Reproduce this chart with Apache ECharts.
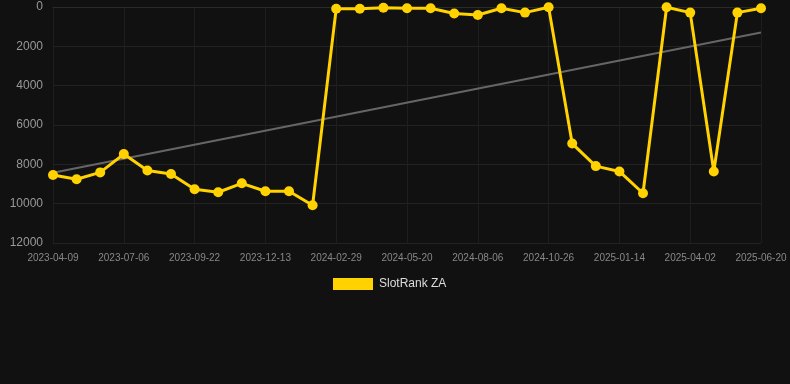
<!DOCTYPE html>
<html>
<head>
<meta charset="utf-8">
<script src="https://cdn.jsdelivr.net/npm/echarts@6/dist/echarts.min.js"></script>
<style>
  html, body { margin: 0; padding: 0; background: #111111; }
  #chart { width: 790px; height: 384px; }
</style>
</head>
<body>
<div id="chart"></div>
<script>
// dates on the x axis (every third one is labelled)
var dates = [
  '2023-04-09', '2023-05-08', '2023-06-06', '2023-07-06', '2023-08-01', '2023-08-27',
  '2023-09-22', '2023-10-19', '2023-11-16', '2023-12-13', '2024-01-08', '2024-02-03',
  '2024-02-29', '2024-03-27', '2024-04-23', '2024-05-20', '2024-06-15', '2024-07-11',
  '2024-08-06', '2024-09-02', '2024-09-29', '2024-10-26', '2024-11-21', '2024-12-18',
  '2025-01-14', '2025-02-09', '2025-03-07', '2025-04-02', '2025-04-28', '2025-05-25',
  '2025-06-20'
]

// rank values
var rankZA = [
  8545, 8760, 8410, 7480, 8310, 8495,
  9270, 9420, 8965, 9370, 9370, 10080,
  85, 85, 35, 65, 65, 335,
  405, 65, 285, 15, 6945, 8090,
  8360, 9470, 15, 285, 8360, 285,
  65
]

// trend line end points
var trendStart = 8430
var trendEnd = 1300

var myChart = echarts.init(document.getElementById('chart'))

var option = {
  backgroundColor: '#111111',
  animation: false,
  grid: {
    left: 53,
    right: 29,
    top: 7,
    bottom: 141,
  },
  legend: {
    top: 273,
    left: 328,
    itemWidth: 40,
    itemHeight: 12,
    itemGap: 10,
    data: [{ name: 'SlotRank ZA', icon: 'rect' }],
    textStyle: {
      color: '#dddddd',
      fontSize: 12,
      padding: [0, 0, 0, 1],
      fontFamily: 'Liberation Sans, Arial, sans-serif',
    },
  },
  xAxis: {
    type: 'category',
    boundaryGap: false,
    data: dates,
    axisLine: { show: true, lineStyle: { color: '#2a2a2a' } },
    axisTick: { show: false },
    axisLabel: {
      interval: 2,
      color: '#888888',
      fontSize: 10,
      margin: 10,
      fontFamily: 'Liberation Sans, Arial, sans-serif',
    },
    splitLine: {
      show: true,
      interval: 2,
      lineStyle: { color: '#1e1e1e' },
    },
  },
  yAxis: {
    type: 'value',
    inverse: true,
    min: 0,
    max: 12000,
    interval: 2000,
    axisLine: { show: false },
    axisTick: { show: false },
    axisLabel: {
      color: '#999999',
      fontSize: 12,
      margin: 10,
      formatter: function (v) { return String(v) },
      fontFamily: 'Liberation Sans, Arial, sans-serif',
    },
    splitLine: {
      lineStyle: { color: '#222222' },
    },
  },
  series: [
    {
      name: 'SlotRank ZA',
      type: 'line',
      data: rankZA,
      symbol: 'circle',
      symbolSize: 10,
      itemStyle: { color: '#ffd200' },
      lineStyle: { color: '#ffd200', width: 3 },
      z: 3,
    },
    {
      name: 'trend',
      type: 'line',
      data: [[dates[0], trendStart], [dates[dates.length - 1], trendEnd]],
      symbol: 'none',
      lineStyle: { color: '#666666', width: 2 },
      z: 2,
    },
  ],
}

myChart.setOption(option)
</script>
</body>
</html>
